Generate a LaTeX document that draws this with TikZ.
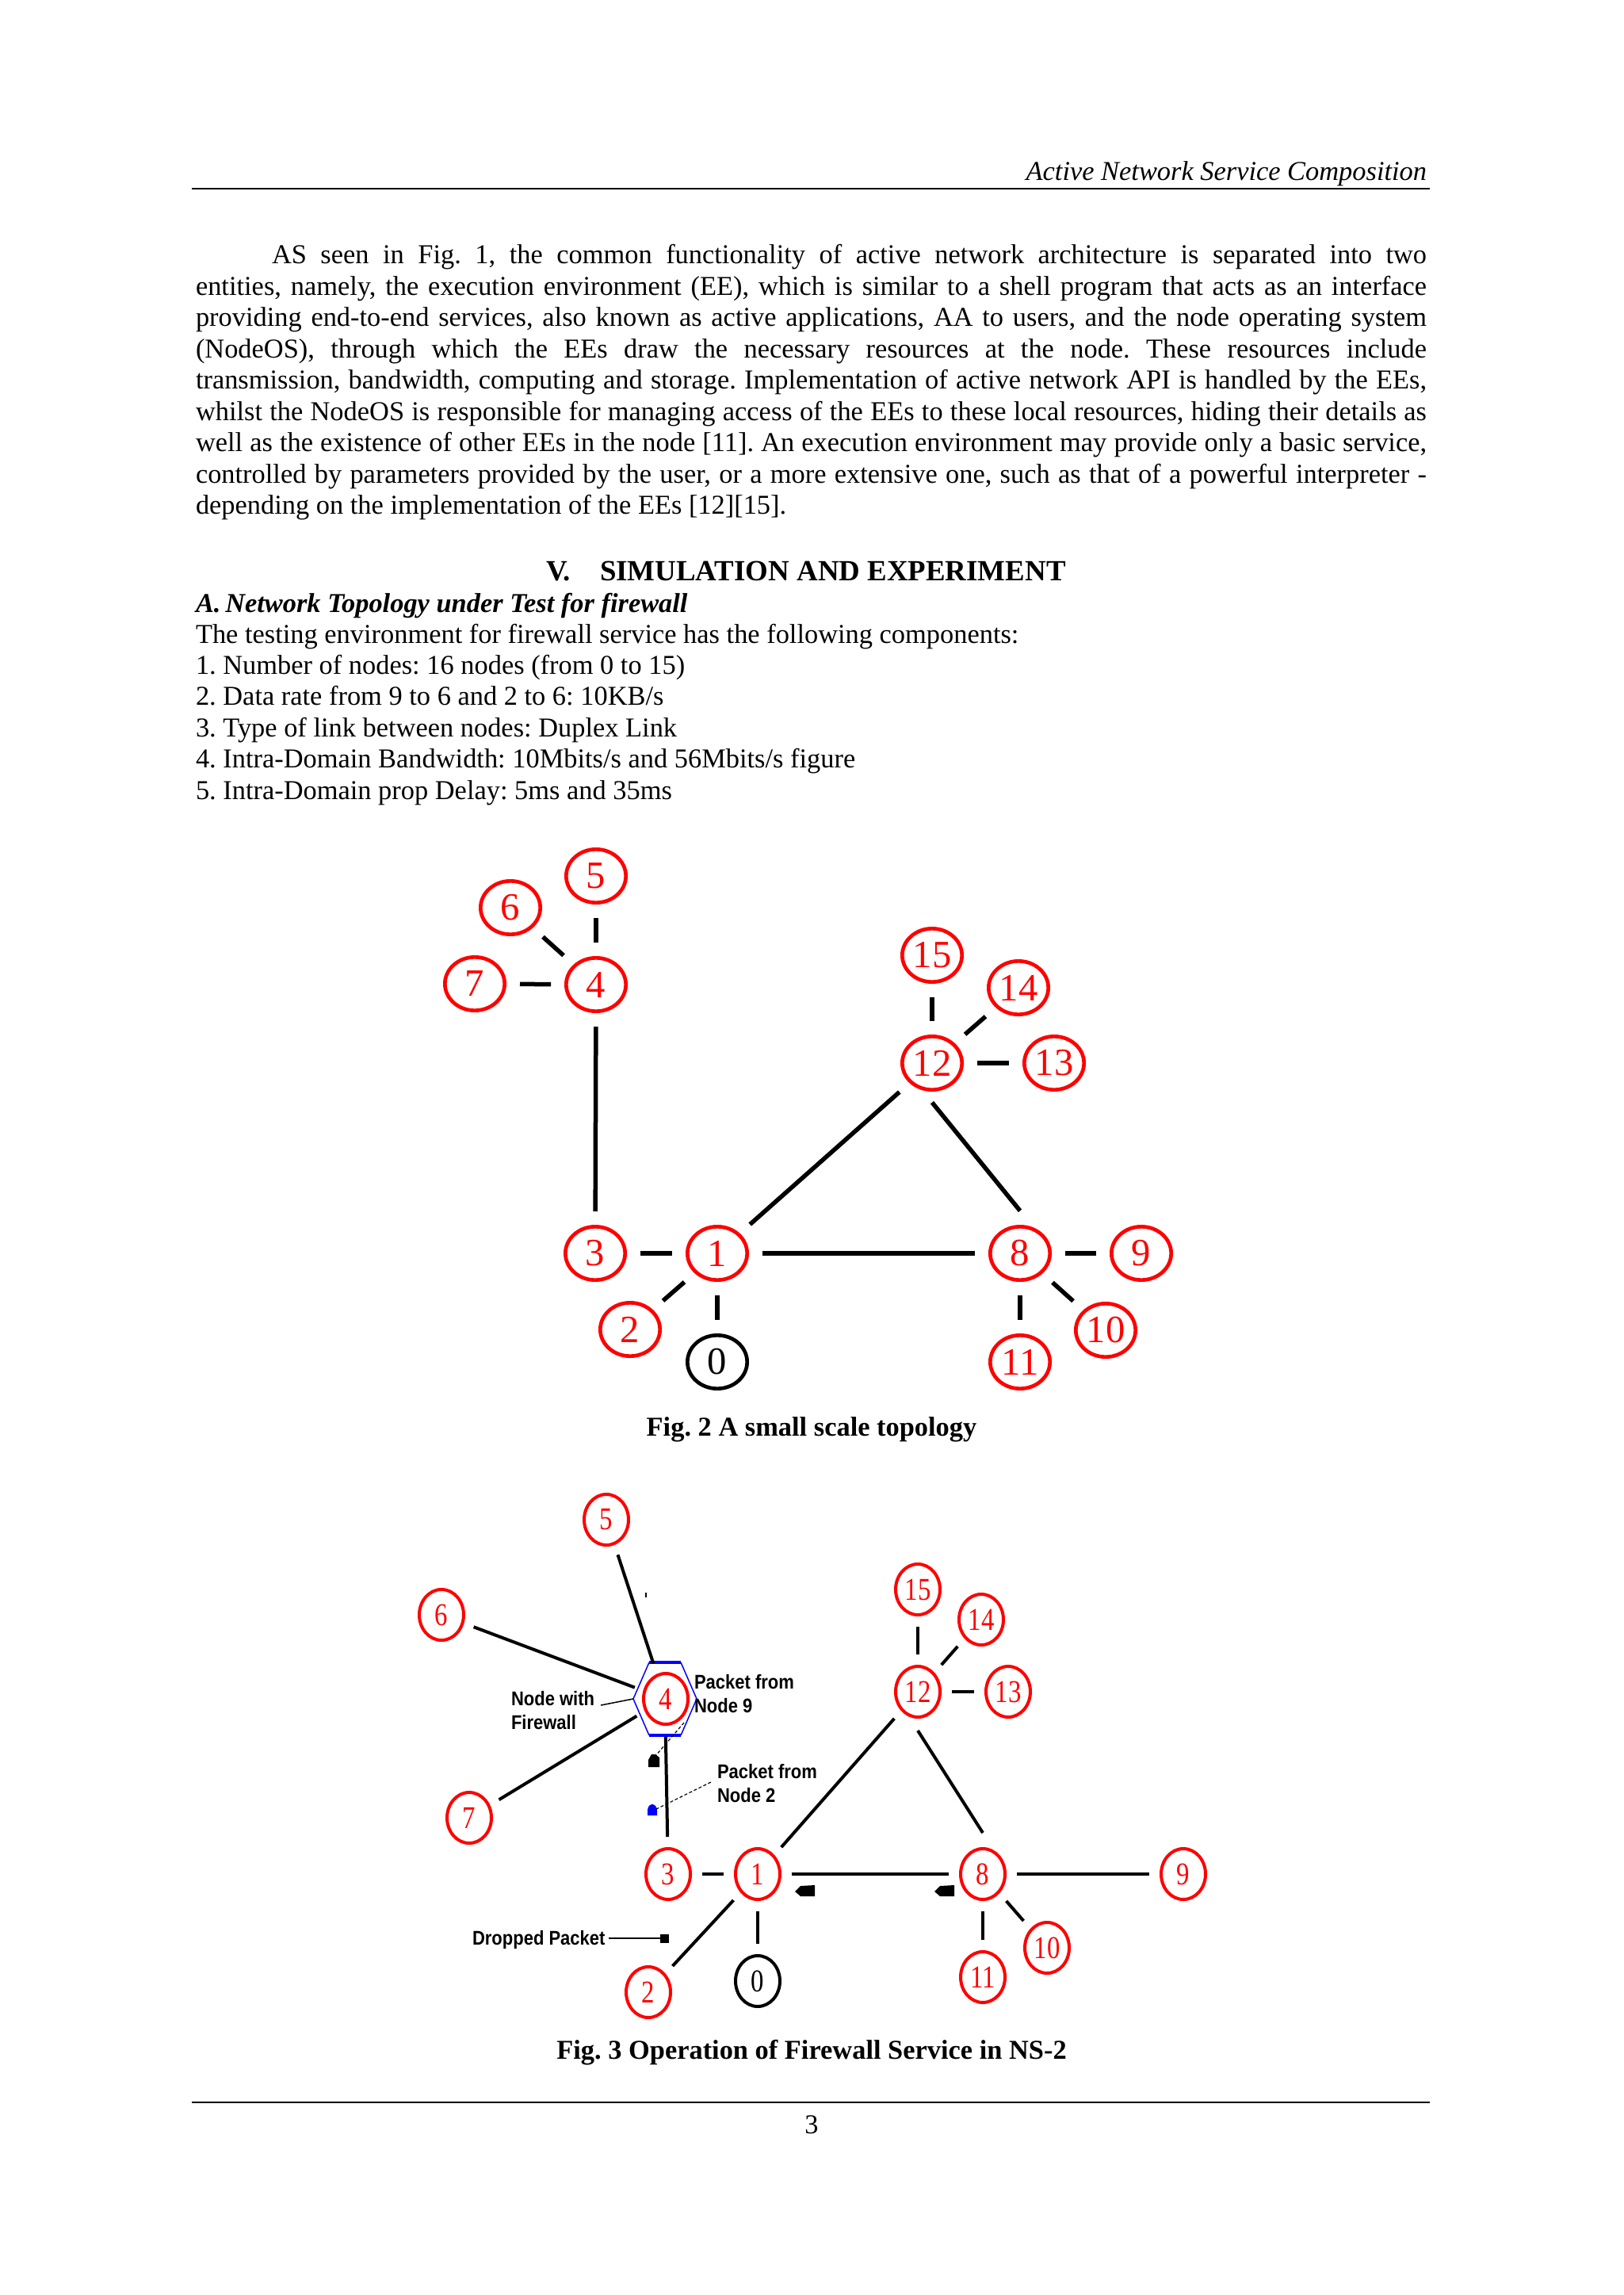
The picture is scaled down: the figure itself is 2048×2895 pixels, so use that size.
\documentclass[tikz,border=0pt]{standalone}
\usepackage{fontspec}
\setmainfont{Liberation Serif}
\newfontfamily\lblfont[FakeStretch=0.88]{Liberation Sans}
\newfontfamily\digfont[FakeStretch=0.82]{Liberation Serif}
\usetikzlibrary{shapes.geometric}
\frenchspacing
\begin{document}
\begin{tikzpicture}[x=0.3pt,y=-0.3pt]
\tikzset{
  txt/.style={inner sep=0pt, outer sep=0pt, font=\fontsize{10.32}{11.85}\selectfont},
  nA/.style={ellipse, draw=red, line width=1.4pt, text=red, minimum width=22.6pt, minimum height=20.2pt, inner sep=0pt, outer sep=0pt, font=\fontsize{14.6}{14.6}\selectfont},
  nAk/.style={nA, draw=black, text=black},
  nB/.style={ellipse, draw=red, line width=1.2pt, text=red, minimum width=16.8pt, minimum height=19.2pt, inner sep=0pt, outer sep=0pt, font=\digfont\fontsize{12}{12}\selectfont},
  nBk/.style={nB, draw=black, text=black},
  lA/.style={line width=1.65pt, shorten <=5.8pt, shorten >=5.8pt},
  lB/.style={line width=1.2pt, shorten <=4.5pt, shorten >=4.5pt},
  lbl/.style={inner sep=0pt, outer sep=0pt, font=\lblfont\bfseries\fontsize{7.5}{9}\selectfont},
  lead/.style={line width=0.45pt},
  dlead/.style={line width=0.35pt, dash pattern=on 1.2pt off 0.8pt},
  figcap/.style={txt, font=\bfseries\fontsize{10.32}{11.85}\selectfont}
}
\useasboundingbox (0,0) rectangle (2048,2895);
\fill[white] (0,0) rectangle (2048,2895);

% ---------- header ----------
\node[txt, anchor=base east] (hdr) at (1800,228) {\itshape Active Network Service Composition};
\draw[line width=0.75pt] (242,238) -- (1804,238);

% ---------- paragraph ----------
\node[txt, anchor=base west] (p1) at (343,333) {\makebox[437.1pt][s]{AS seen in Fig. 1, the common functionality of active network architecture is separated into two}};
\node[txt, anchor=base west] (p2) at (247,372.5) {\makebox[465.9pt][s]{entities, namely, the execution environment (EE), which is similar to a shell program that acts as an interface}};
\node[txt, anchor=base west] (p3) at (247,412) {\makebox[465.9pt][s]{providing end-to-end services, also known as active applications, AA to users, and the node operating system}};
\node[txt, anchor=base west] (p4) at (247,451.5) {\makebox[465.9pt][s]{(NodeOS), through which the EEs draw the necessary resources at the node. These resources include}};
\node[txt, anchor=base west] (p5) at (247,491) {\makebox[465.9pt][s]{transmission, bandwidth, computing and storage. Implementation of active network API is handled by the EEs,}};
\node[txt, anchor=base west] (p6) at (247,530.5) {\makebox[465.9pt][s]{whilst the NodeOS is responsible for managing access of the EEs to these local resources, hiding their details as}};
\node[txt, anchor=base west] (p7) at (247,570) {\makebox[465.9pt][s]{well as the existence of other EEs in the node [11]. An execution environment may provide only a basic service,}};
\node[txt, anchor=base west] (p8) at (247,609.5) {\makebox[465.9pt][s]{controlled by parameters provided by the user, or a more extensive one, such as that of a powerful interpreter -}};
\node[txt, anchor=base west] (p9) at (247,649) {depending on the implementation of the EEs [12][15].};

% ---------- section ----------
\node[txt, anchor=base west, font=\bfseries\fontsize{11.07}{13}\selectfont] (secV) at (689,732) {V.};
\node[txt, anchor=base west, font=\bfseries\fontsize{11.07}{13}\selectfont] (secT) at (757,732) {SIMULATION AND EXPERIMENT};
\node[txt, anchor=base west, font=\bfseries\itshape\fontsize{10.32}{11.85}\selectfont] (subA) at (247,772) {A.\,Network Topology under Test for firewall};
\node[txt, anchor=base west] (l0) at (247,811) {The testing environment for firewall service has the following components:};
\node[txt, anchor=base west] (l1) at (247,850) {1. Number of nodes: 16 nodes (from 0 to 15)};
\node[txt, anchor=base west] (l2) at (247,889) {2. Data rate from 9 to 6 and 2 to 6: 10KB/s};
\node[txt, anchor=base west] (l3) at (247,929) {3. Type of link between nodes: Duplex Link};
\node[txt, anchor=base west] (l4) at (247,968) {4. Intra-Domain Bandwidth: 10Mbits/s and 56Mbits/s figure};
\node[txt, anchor=base west] (l5) at (247,1008) {5. Intra-Domain prop Delay: 5ms and 35ms};

% ---------- Fig. 2 ----------
\node[nA] (a5) at (752,1105) {5};
\node[nA] (a6) at (644,1145) {6};
\node[nA] (a4) at (752,1242) {4};
\node[nA] (a7) at (599,1241) {7};
\node[nA] (a3) at (751,1581) {3};
\node[nA] (a1) at (905,1581) {1};
\node[nA] (a2) at (795,1677) {2};
\node[nAk] (a0) at (905,1718) {0};
\node[nA] (a15) at (1176,1205) {15};
\node[nA] (a14) at (1285,1246) {14};
\node[nA] (a12) at (1176,1341) {12};
\node[nA] (a13) at (1330,1341) {13};
\node[nA] (a8) at (1287,1581) {8};
\node[nA] (a9) at (1440,1581) {9};
\node[nA] (a10) at (1395,1678) {10};
\node[nA] (a11) at (1287,1718) {11};

\draw[lA] (a5) -- (a4);
\draw[lA] (a6) -- (a4);
\draw[lA] (a7) -- (a4);
\draw[lA] (a4) -- (a3);
\draw[lA] (a3) -- (a1);
\draw[lA] (a1) -- (a2);
\draw[lA] (a1) -- (a0);
\draw[lA] (a1) -- (a12);
\draw[lA] (a1) -- (a8);
\draw[line width=1.65pt] ([yshift=-4.8pt]a12.south) -- ([yshift=6pt]a8.north);
\draw[lA] (a15) -- (a12);
\draw[lA] (a14) -- (a12);
\draw[lA] (a12) -- (a13);
\draw[lA] (a8) -- (a9);
\draw[lA] (a8) -- (a10);
\draw[lA] (a8) -- (a11);

\node[figcap, anchor=base] (cap2) at (1024,1811) {Fig. 2 A small scale topology};

% ---------- Fig. 3 ----------
% firewall hexagon
\node[ellipse, minimum width=24pt, minimum height=28.8pt, inner sep=0pt, outer sep=0pt] (fw) at (839,2143) {};
\draw[blue, line width=0.45pt] (819,2097) -- (799,2143) -- (819,2189);
\draw[blue, line width=0.45pt] (859,2097) -- (879,2143) -- (859,2189);
\draw[blue, line width=0.95pt] (819,2097) -- (859,2097);
\draw[blue, line width=0.95pt] (819,2189) -- (859,2189);

\node[nB] (b5) at (765,1917) {5};
\node[nB] (b6) at (557,2037) {6};
\node[nB] (b7) at (592,2293) {7};
\node[nB] (b4) at (840,2143) {4};
\node[nB] (b15) at (1158,2005) {15};
\node[nB] (b14) at (1238,2043) {14};
\node[nB] (b12) at (1158,2134) {12};
\node[nB] (b13) at (1272,2134) {13};
\node[nB] (b3) at (843,2364) {3};
\node[nB] (b1) at (956,2364) {1};
\node[nB] (b8) at (1240,2364) {8};
\node[nB] (b9) at (1493,2364) {9};
\node[nB] (b2) at (818,2513) {2};
\node[nBk] (b0) at (956,2499) {0};
\node[nB] (b11) at (1240,2494) {11};
\node[nB] (b10) at (1321,2457) {10};

\draw[lB, shorten >=0pt] (b5) -- (fw);
\draw[lB, shorten >=0pt] (b6) -- (fw);
\draw[lB, shorten >=0pt] (b7) -- (fw);
\draw[lB, shorten <=0pt] (fw) -- (b3);
\draw[lB] (b3) -- (b1);
\draw[lB] (b1) -- (b2);
\draw[lB] (b1) -- (b0);
\draw[lB] (b1) -- (b12);
\draw[lB] (b1) -- (b8);
\draw[line width=1.2pt] ([yshift=-5.1pt]b12.south) -- ([yshift=6pt]b8.north);
\draw[lB] (b15) -- (b12);
\draw[lB] (b14) -- (b12);
\draw[lB] (b12) -- (b13);
\draw[lB] (b8) -- (b9);
\draw[lB] (b8) -- (b10);
\draw[lB] (b8) -- (b11);

% tiny mark
\fill (814,2009) rectangle (816,2015);

% packets
\coordinate (pk9) at (826,2216);
\fill (818,2229) -- (832,2229) -- (832,2217) -- (827,2213) -- (822,2213) -- (818,2220) -- cycle;
\coordinate (pk2) at (828,2282);
\fill[blue] (817,2290) -- (829,2290) -- (829,2284) .. controls (829,2279) and (826,2276) .. (823,2276) .. controls (820,2276) and (817,2279) .. (817,2284) -- cycle;
\fill (1003,2386) -- (1010,2379) -- (1028,2378) -- (1028,2392) -- (1010,2392) -- cycle;
\fill (1179,2386) -- (1186,2379) -- (1204,2378) -- (1204,2392) -- (1186,2392) -- cycle;
\node[fill, minimum size=3.3pt, inner sep=0pt, outer sep=0pt] (sq) at (838,2445) {};

% labels
\node[lbl, anchor=base west] (fwl1) at (645,2151) {Node with};
\node[lbl, anchor=base west] (fwl2) at (645,2181) {Firewall};
\draw[lead] ([xshift=2.4pt]fwl1.base east) -- (fw.west);

\node[lbl, anchor=base west] (n9a) at (876,2130) {Packet from};
\node[lbl, anchor=base west] (n9b) at (876,2160) {Node 9};
\coordinate (n9s) at (863,2173);
\draw[dlead] (n9s) -- (pk9);

\node[lbl, anchor=base west] (n2a) at (905,2243) {Packet from};
\node[lbl, anchor=base west] (n2b) at (905,2273) {Node 2};
\coordinate (n2s) at (897,2248);
\draw[dlead] (n2s) -- (pk2);

\node[lbl, anchor=base west] (dp) at (596,2453) {Dropped Packet};
\coordinate (dpe) at (768,2445);
\draw[lead] (dpe) -- (sq);

\node[figcap, anchor=base] (cap3) at (1024,2597) {Fig. 3 Operation of Firewall Service in NS-2};

% ---------- footer ----------
\draw[line width=0.6pt] (242,2652) -- (1804,2652);
\node[txt, anchor=base] (pgno) at (1024,2691) {3};
\end{tikzpicture}
\end{document}
